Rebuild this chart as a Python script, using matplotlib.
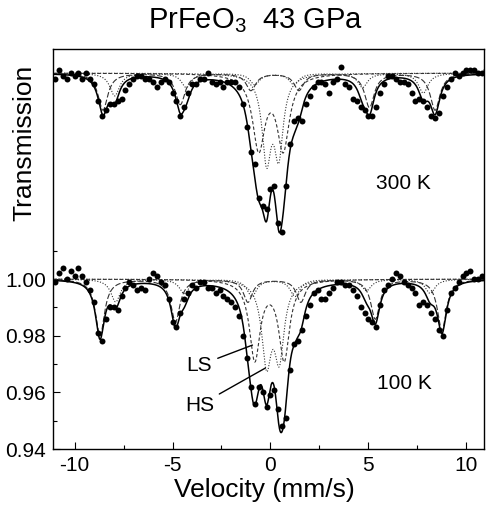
import numpy as np
import matplotlib
matplotlib.use('Agg')
import matplotlib.pyplot as plt
from matplotlib.ticker import FixedLocator

plt.rcParams['font.family'] = ['Liberation Sans', 'DejaVu Sans']
plt.rcParams['mathtext.fontset'] = 'custom'
plt.rcParams['mathtext.rm'] = 'Liberation Sans'
plt.rcParams['axes.unicode_minus'] = False

# ---------------- data ----------------
velocity = [-11.0, -10.8, -10.6, -10.4, -10.2, -10.0, -9.8, -9.6, -9.4, -9.2,
            -9.0, -8.8, -8.6, -8.4, -8.2, -8.0, -7.8, -7.6, -7.4, -7.2,
            -7.0, -6.8, -6.6, -6.4, -6.2, -6.0, -5.8, -5.6, -5.4, -5.2,
            -5.0, -4.8, -4.6, -4.4, -4.2, -4.0, -3.8, -3.6, -3.4, -3.2,
            -3.0, -2.8, -2.6, -2.4, -2.2, -2.0, -1.8, -1.6, -1.4, -1.2,
            -1.0, -0.8, -0.6, -0.4, -0.2, 0.0, 0.2, 0.4, 0.6, 0.8,
            1.0, 1.2, 1.4, 1.6, 1.8, 2.0, 2.2, 2.4, 2.6, 2.8,
            3.0, 3.2, 3.4, 3.6, 3.8, 4.0, 4.2, 4.4, 4.6, 4.8,
            5.0, 5.2, 5.4, 5.6, 5.8, 6.0, 6.2, 6.4, 6.6, 6.8,
            7.0, 7.2, 7.4, 7.6, 7.8, 8.0, 8.2, 8.4, 8.6, 8.8,
            9.0, 9.2, 9.4, 9.6, 9.8, 10.0, 10.2, 10.4, 10.6, 10.8,
            11.0]

trans_100K = [0.999, 1.002, 1.004, 1.000, 1.003, 1.001, 1.004, 1.001, 0.999, 0.996,
              0.992, 0.981, 0.978, 0.986, 0.990, 0.990, 0.989, 0.994, 0.997, 0.999,
              0.998, 0.996, 0.997, 0.996, 1.000, 1.002, 1.001, 0.999, 0.998, 0.993,
              0.985, 0.983, 0.988, 0.993, 0.995, 0.998, 0.997, 0.999, 0.999, 0.997,
              0.997, 0.995, 0.996, 0.994, 0.993, 0.992, 0.990, 0.987, 0.980, 0.972,
              0.962, 0.956, 0.962, 0.960, 0.955, 0.959, 0.961, 0.954, 0.948, 0.951,
              0.968, 0.977, 0.978, 0.982, 0.987, 0.991, 0.995, 0.996, 0.993, 0.993,
              0.995, 0.997, 0.999, 0.999, 0.998, 0.998, 0.996, 0.994, 0.990, 0.988,
              0.986, 0.985, 0.983, 0.991, 0.996, 0.998, 1.000, 1.002, 1.001, 0.999,
              0.998, 0.997, 0.995, 0.991, 0.992, 0.991, 0.988, 0.986, 0.982, 0.980,
              0.989, 0.995, 0.997, 0.999, 1.001, 1.002, 1.003, 1.000, 1.000, 1.001,
              1.000]

trans_300K = [0.998, 1.001, 0.999, 0.998, 1.000, 0.999, 1.000, 0.998, 1.000, 0.998,
              0.996, 0.990, 0.985, 0.987, 0.989, 0.989, 0.990, 0.991, 0.994, 0.996,
              0.998, 0.999, 0.999, 0.998, 0.998, 0.997, 0.995, 0.997, 0.998, 0.997,
              0.993, 0.990, 0.985, 0.988, 0.993, 0.996, 0.996, 0.998, 0.998, 1.000,
              0.997, 0.996, 0.997, 0.995, 0.997, 0.997, 0.997, 0.995, 0.989, 0.981,
              0.972, 0.968, 0.956, 0.953, 0.952, 0.959, 0.960, 0.947, 0.944, 0.960,
              0.975, 0.983, 0.984, 0.983, 0.989, 0.992, 0.995, 0.997, 0.997, 0.996,
              0.993, 0.997, 0.998, 1.002, 0.996, 0.995, 0.991, 0.990, 0.988, 0.987,
              0.985, 0.985, 0.988, 0.993, 0.996, 0.999, 0.999, 0.998, 0.997, 0.997,
              0.996, 0.993, 0.990, 0.991, 0.990, 0.988, 0.985, 0.984, 0.986, 0.992,
              0.995, 0.998, 1.000, 0.999, 1.000, 1.001, 1.001, 1.001, 1.000, 1.000,
              1.001]

offset_300K = 0.0727

# fitted sub-spectra: line positions (mm/s), depths, half widths (mm/s)
sextA_100K_pos = [-8.7, -4.85, -1.15, 1.55, 5.35, 8.75]
sextA_100K_depth = [0.020, 0.015, 0.008, 0.008, 0.014, 0.018]
sextA_100K_hw = 0.28
sextB_100K_pos = [-7.9, -4.4, -0.95, 1.25, 4.9, 8.15]
sextB_100K_depth = [0.008, 0.005, 0.006, 0.006, 0.004, 0.005]
sextB_100K_hw = 0.30
ls_100K_pos = [-0.8, 0.7]
ls_100K_depth = [0.028, 0.028]
ls_100K_hw = 0.33
hs_100K_pos = [-0.2, 0.45]
hs_100K_depth = [0.028, 0.026]
hs_100K_hw = 0.30

sextA_300K_pos = [-8.55, -4.6, -1.0, 1.45, 5.05, 8.4]
sextA_300K_depth = [0.013, 0.011, 0.006, 0.006, 0.012, 0.013]
sextA_300K_hw = 0.30
sextB_300K_pos = [-7.95, -4.3, -0.8, 1.2, 4.7, 7.8]
sextB_300K_depth = [0.008, 0.005, 0.004, 0.004, 0.005, 0.007]
sextB_300K_hw = 0.30
ls_300K_pos = [-0.6, 0.65]
ls_300K_depth = [0.026, 0.026]
ls_300K_hw = 0.38
hs_300K_pos = [-0.2, 0.42]
hs_300K_depth = [0.029, 0.027]
hs_300K_hw = 0.28


def absorption(v, pos, depth, hw):
    out = np.zeros_like(v)
    for p, d in zip(pos, depth):
        out += d / (1.0 + ((v - p) / hw) ** 2)
    return out


# ---------------- figure ----------------
fig = plt.figure(figsize=(4.86, 5.08), dpi=100)
ax = fig.add_axes([0.109, 0.116, 0.887, 0.7875])

vf = np.linspace(-11.3, 11.3, 1500)

spectra = [
    (trans_100K, 0.0,
     [(sextA_100K_pos, sextA_100K_depth, sextA_100K_hw, (0, (5, 2))),
      (sextB_100K_pos, sextB_100K_depth, sextB_100K_hw, (0, (1, 1.5))),
      (ls_100K_pos, ls_100K_depth, ls_100K_hw, (0, (3, 2))),
      (hs_100K_pos, hs_100K_depth, hs_100K_hw, (0, (1, 1.5)))]),
    (trans_300K, offset_300K,
     [(sextA_300K_pos, sextA_300K_depth, sextA_300K_hw, (0, (5, 2))),
      (sextB_300K_pos, sextB_300K_depth, sextB_300K_hw, (0, (1, 1.5))),
      (ls_300K_pos, ls_300K_depth, ls_300K_hw, (0, (3, 2))),
      (hs_300K_pos, hs_300K_depth, hs_300K_hw, (0, (1, 1.5)))]),
]

for trans, off, comps in spectra:
    total = np.zeros_like(vf)
    for pos, depth, hw, ls in comps:
        a = absorption(vf, pos, depth, hw)
        total += a
        ax.plot(vf, 1.0 - a + off, color='#333333', lw=0.8, linestyle=ls)
    ax.plot(vf, 1.0 - total + off, color='black', lw=1.1)
    ax.plot(velocity, np.array(trans) + off, 'o', color='black', ms=4.3,
            markeredgewidth=0)

ax.set_xlim(-11.1, 10.9)
ax.set_ylim(0.94, 1.0812)
ax.xaxis.set_major_locator(FixedLocator([-10, -5, 0, 5, 10]))
ax.xaxis.set_minor_locator(FixedLocator([-7.5, -2.5, 2.5, 7.5]))
ax.yaxis.set_major_locator(FixedLocator([0.94, 0.96, 0.98, 1.00]))
ax.yaxis.set_minor_locator(FixedLocator([0.95, 0.97, 0.99, 1.01]))
ax.set_yticklabels(['0.94', '0.96', '0.98', '1.00'])
ax.tick_params(which='both', direction='in', labelsize=15, width=0.8)
ax.tick_params(which='major', length=5, pad=5)
ax.tick_params(which='minor', length=3)
for s in ax.spines.values():
    s.set_linewidth(1.0)

ax.text(6.8, 1.0339, '300 K', fontsize=15, ha='center', va='center')
ax.text(6.85, 0.963, '100 K', fontsize=15, ha='center', va='center')

ax.annotate('LS', xy=(-0.92, 0.9767), xytext=(-3.62, 0.9696), fontsize=15,
            ha='center', va='center',
            arrowprops=dict(arrowstyle='-', lw=1.0, color='black',
                            shrinkA=2, shrinkB=0))
ax.annotate('HS', xy=(-0.26, 0.9686), xytext=(-3.62, 0.9555), fontsize=15,
            ha='center', va='center',
            arrowprops=dict(arrowstyle='-', lw=1.0, color='black',
                            shrinkA=2, shrinkB=0))

fig.text(256 / 486, 1 - 21 / 508, r'PrFeO$_\mathregular{3}$  43 GPa',
         fontsize=21, ha='center', va='center')
fig.text(24 / 486, 1 - 143 / 508, 'Transmission', fontsize=19,
         rotation=90, ha='center', va='center')
fig.text(264 / 486, 1 - 490 / 508, 'Velocity (mm/s)', fontsize=19,
         ha='center', va='center')

fig.savefig('out.png', dpi=100)
